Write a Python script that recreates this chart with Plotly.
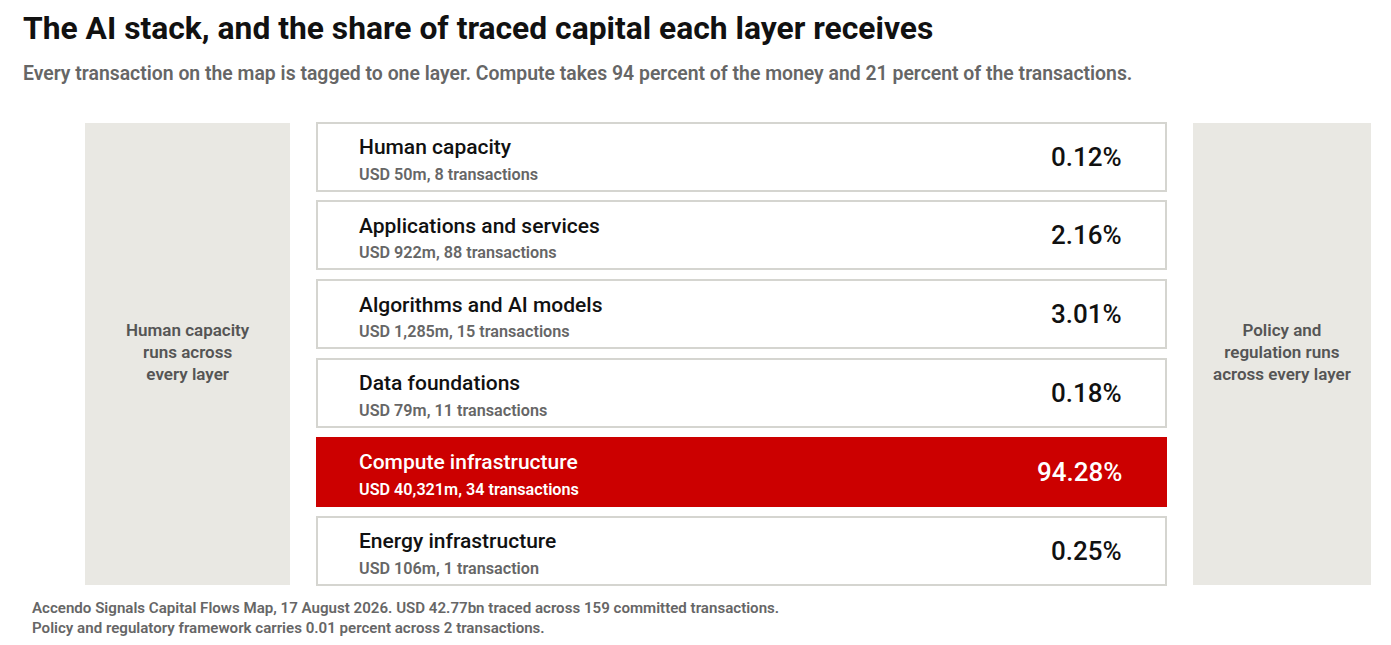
import plotly.graph_objects as go

# --- data ---
layers = [
    "Human capacity",
    "Applications and services",
    "Algorithms and AI models",
    "Data foundations",
    "Compute infrastructure",
    "Energy infrastructure",
]
usd_m = [50, 922, 1285, 79, 40321, 106]
transactions = [8, 88, 15, 11, 34, 1]
share_pct = [0.12, 2.16, 3.01, 0.18, 94.28, 0.25]
highlight = "Compute infrastructure"

title = "The AI stack, and the share of traced capital each layer receives"
subtitle = ("Every transaction on the map is tagged to one layer. Compute takes 94 percent "
            "of the money and 21 percent of the transactions.")
left_note = "Human capacity<br>runs across<br>every layer"
right_note = "Policy and<br>regulation runs<br>across every layer"
footer = ("Accendo Signals Capital Flows Map, 17 August 2026. USD 42.77bn traced across 159 "
          "committed transactions.<br>Policy and regulatory framework carries 0.01 percent "
          "across 2 transactions.")

# --- layout constants (page pixels; the page body has an 8px margin) ---
PAGE_W, PAGE_H, OFF = 1391, 645, 8
W, H = PAGE_W - 2 * OFF, PAGE_H - 2 * OFF
BOX_L, BOX_R = 317, 1166
ROW0, ROW_STEP, ROW_H = 156.5, 78.8, 68
PAD = 2  # annotation inner padding
FONT = "Roboto"
RED = "#cc0000"
GREY_BG = "#e9e8e3"
BORDER = "#d5d5d0"


def px(x):
    return x - OFF


def py(y):
    return 1 - (y - OFF) / H


y_top = -(ROW0 - OFF) / ROW_STEP
y_bot = (H - (ROW0 - OFF)) / ROW_STEP

is_hl = [l == highlight for l in layers]

fig = go.Figure()
fig.add_trace(go.Bar(
    y=layers,
    x=[BOX_R - BOX_L] * len(layers),
    base=px(BOX_L),
    orientation="h",
    width=ROW_H / ROW_STEP,
    marker=dict(
        color=[RED if h else "white" for h in is_hl],
        line=dict(color=[RED if h else BORDER for h in is_hl], width=2),
    ),
    hoverinfo="skip",
    showlegend=False,
))

# side panels
for x0, x1, note in [(85, 290, left_note), (1193, 1371, right_note)]:
    fig.add_shape(type="rect", xref="x", yref="paper",
                  x0=px(x0), x1=px(x1), y0=py(585), y1=py(123),
                  fillcolor=GREY_BG, line_width=0, layer="below")
    fig.add_annotation(x=px((x0 + x1) / 2), y=py(352), xref="x", yref="paper",
                       text=note, showarrow=False, align="center",
                       font=dict(family=FONT, size=17, color="#555555", weight=600))

for name, m, t, p, h in zip(layers, usd_m, transactions, share_pct, is_hl):
    fg = "white" if h else "#111111"
    sub = "white" if h else "#666666"
    fig.add_annotation(x=px(359 - PAD), y=name, yshift=9.5, xanchor="left", yanchor="middle",
                       text=name, showarrow=False,
                       font=dict(family=FONT, size=21, color=fg, weight=500))
    tr = "transaction" if t == 1 else "transactions"
    fig.add_annotation(x=px(359 - PAD), y=name, yshift=-17.5, xanchor="left", yanchor="middle",
                       text=f"USD {m:,}m, {t} {tr}", showarrow=False,
                       font=dict(family=FONT, size=16.2, color=sub, weight=600))
    fig.add_annotation(x=px(1122 + PAD), y=name, yshift=0, xanchor="right", yanchor="middle",
                       text=f"{p:.2f}%", showarrow=False,
                       font=dict(family=FONT, size=26, color=fg, weight=500))

fig.add_annotation(x=px(23 - PAD), y=py(28), xref="x", yref="paper", xanchor="left",
                   yanchor="middle", text=title, showarrow=False,
                   font=dict(family=FONT, size=31.8, color="#111111", weight=700))
fig.add_annotation(x=px(23 - PAD), y=py(73), xref="x", yref="paper", xanchor="left",
                   yanchor="middle", text=subtitle, showarrow=False,
                   font=dict(family=FONT, size=19.4, color="#666666", weight=600))
fig.add_annotation(x=px(32 - PAD), y=py(618), xref="x", yref="paper", xanchor="left",
                   yanchor="middle", text=footer, showarrow=False, align="left",
                   font=dict(family=FONT, size=15.1, color="#666666", weight=600))

fig.update_layout(
    width=W, height=H,
    margin=dict(l=0, r=0, t=0, b=0),
    paper_bgcolor="white", plot_bgcolor="white",
    xaxis=dict(range=[0, W], visible=False, fixedrange=True),
    yaxis=dict(type="category", categoryorder="array", categoryarray=layers,
               range=[y_bot, y_top], visible=False, fixedrange=True),
    bargap=0,
)

fig.write_html("out.html", config={"displayModeBar": False})
